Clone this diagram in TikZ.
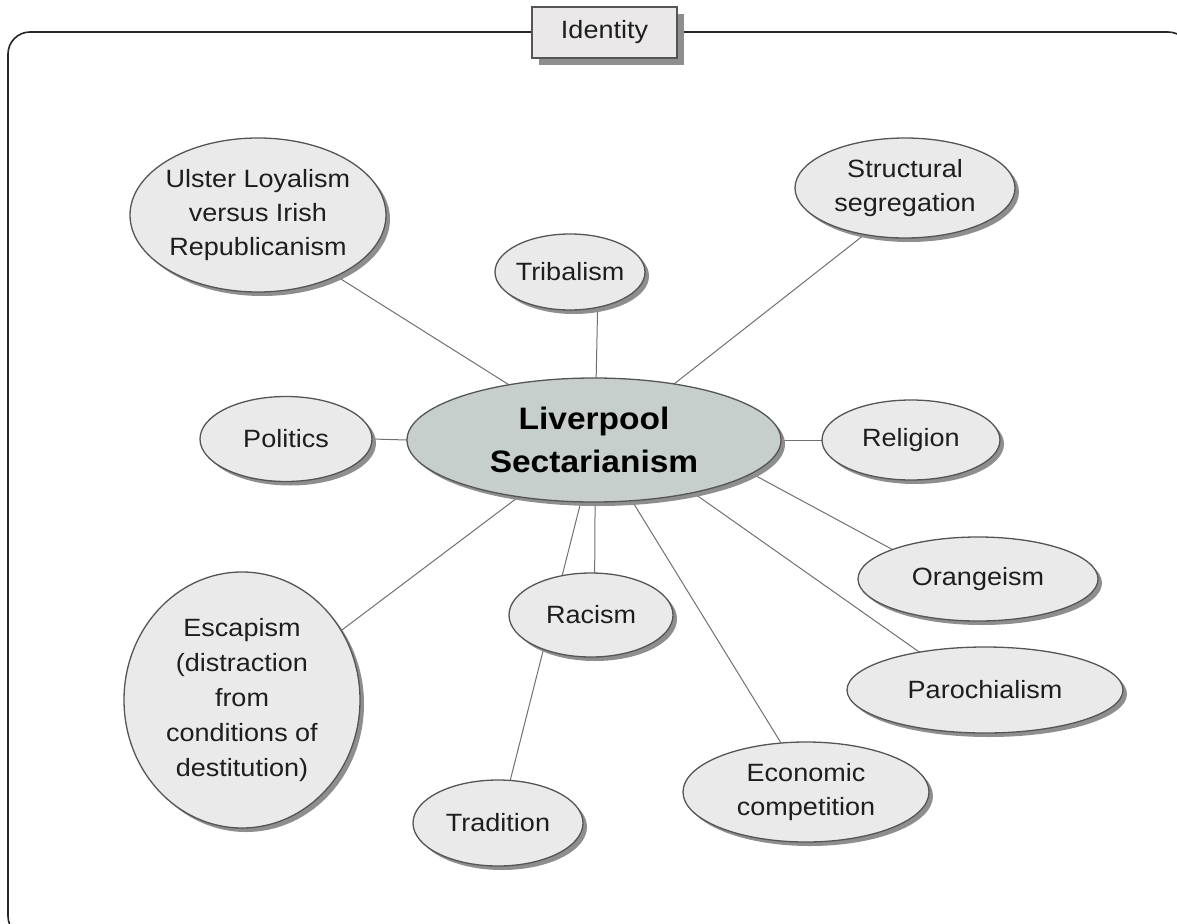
\documentclass[tikz,border=0pt]{standalone}
\usepackage{fontspec}
\setmainfont{Liberation Sans}[FakeStretch=1.08]
\usetikzlibrary{shapes.geometric,shadows,backgrounds}
\definecolor{bubfill}{HTML}{EBEAEA}
\definecolor{mainfill}{HTML}{C6CFCB}
\definecolor{edgecol}{HTML}{555555}
\definecolor{conncol}{HTML}{707070}
\definecolor{shadecol}{HTML}{8E8E8E}
\definecolor{txtcol}{HTML}{1E1E1E}
\definecolor{idfill}{HTML}{EAE8E8}
\begin{document}
\begin{tikzpicture}[x=1pt,y=-1pt,
  bub/.style={ellipse, draw=edgecol, line width=1.3pt, fill=bubfill, inner sep=0pt, outer sep=0pt,
    drop shadow={shadow xshift=4pt, shadow yshift=-4pt, fill=shadecol, opacity=1}},
  lbl/.style={align=center, font=\fontsize{25}{34}\selectfont, text=txtcol, inner sep=0pt},
  cn/.style={draw=conncol, line width=1pt},
  idbox/.style={rectangle, draw=edgecol, line width=1.5pt, fill=idfill, inner sep=0pt,
    drop shadow={shadow xshift=7pt, shadow yshift=-7pt, fill=shadecol, opacity=1},
    font=\fontsize{25}{30}\selectfont, text=txtcol},
  framestyle/.style={draw=black!85, line width=1.6pt, rounded corners=22pt}
]
\useasboundingbox (0,0) rectangle (1177,923);
\clip (0,0) rectangle (1177,923);
\draw[framestyle] (8,32) rectangle (1190,938);
\node[idbox, minimum width=145pt, minimum height=51pt] (id) at (604.5,32.5) {Identity};

\node[bub, fill=mainfill, minimum width=374pt, minimum height=124pt] (main) at (594,440) {};
\node[align=center, inner sep=0pt, font=\bfseries\fontsize{31}{43}\selectfont] (main-t) at (main) {Liverpool\\Sectarianism};

\node[bub, minimum width=256pt, minimum height=154pt] (ul) at (258,215) {};
\node[lbl] (ul-t) at (ul) {Ulster Loyalism\\versus Irish\\Republicanism};

\node[bub, minimum width=150pt, minimum height=76pt] (trib) at (570,272) {};
\node[lbl] (trib-t) at (trib) {Tribalism};

\node[bub, minimum width=220pt, minimum height=100pt] (str) at (905,188) {};
\node[lbl] (str-t) at (str) {Structural\\segregation};

\node[bub, minimum width=172pt, minimum height=85pt] (pol) at (286,439) {};
\node[lbl] (pol-t) at (pol) {Politics};

\node[bub, minimum width=178pt, minimum height=80pt] (rel) at (911,440) {};
\node[lbl] (rel-t) at (rel) {Religion};

\node[bub, minimum width=240pt, minimum height=84pt] (ora) at (978,579) {};
\node[lbl] (ora-t) at (ora) {Orangeism};

\node[bub, minimum width=276pt, minimum height=86pt] (par) at (985,690) {};
\node[lbl] (par-t) at (par) {Parochialism};

\node[bub, minimum width=246pt, minimum height=100pt] (eco) at (806,792) {};
\node[lbl] (eco-t) at (eco) {Economic\\competition};

\node[bub, minimum width=164pt, minimum height=84pt] (rac) at (591,615) {};
\node[lbl] (rac-t) at (rac) {Racism};

\node[bub, minimum width=170pt, minimum height=86pt] (trad) at (498,823) {};
\node[lbl] (trad-t) at (trad) {Tradition};

\node[bub, minimum width=236pt, minimum height=256pt] (esc) at (242,700) {};
\node[lbl, font=\fontsize{25}{35}\selectfont] (esc-t) at (esc) {Escapism\\(distraction\\from\\conditions of\\destitution)};

\begin{pgfonlayer}{background}
\draw[cn] (ul.-38.6) -- (main.147.9);
\draw[cn] (trib.-52.9) -- (main.88);
\draw[cn] (str.-131.3) -- (main.35.6);
\draw[cn] (pol.east) -- (main.west);
\draw[cn] (main.east) -- (rel.west);
\draw[cn] (main.-12.7) -- (ora.161.4);
\draw[cn] (main.-28.2) -- (par.150.4);
\draw[cn] (main.-58.2) -- (eco.117.5);
\draw[cn] (main.-89.5) -- (rac.85);
\draw[cn] (main.-102.5) -- (trad.74.4);
\draw[cn] (main.-143.3) -- (esc.35.3);
\end{pgfonlayer}
\end{tikzpicture}
\end{document}
